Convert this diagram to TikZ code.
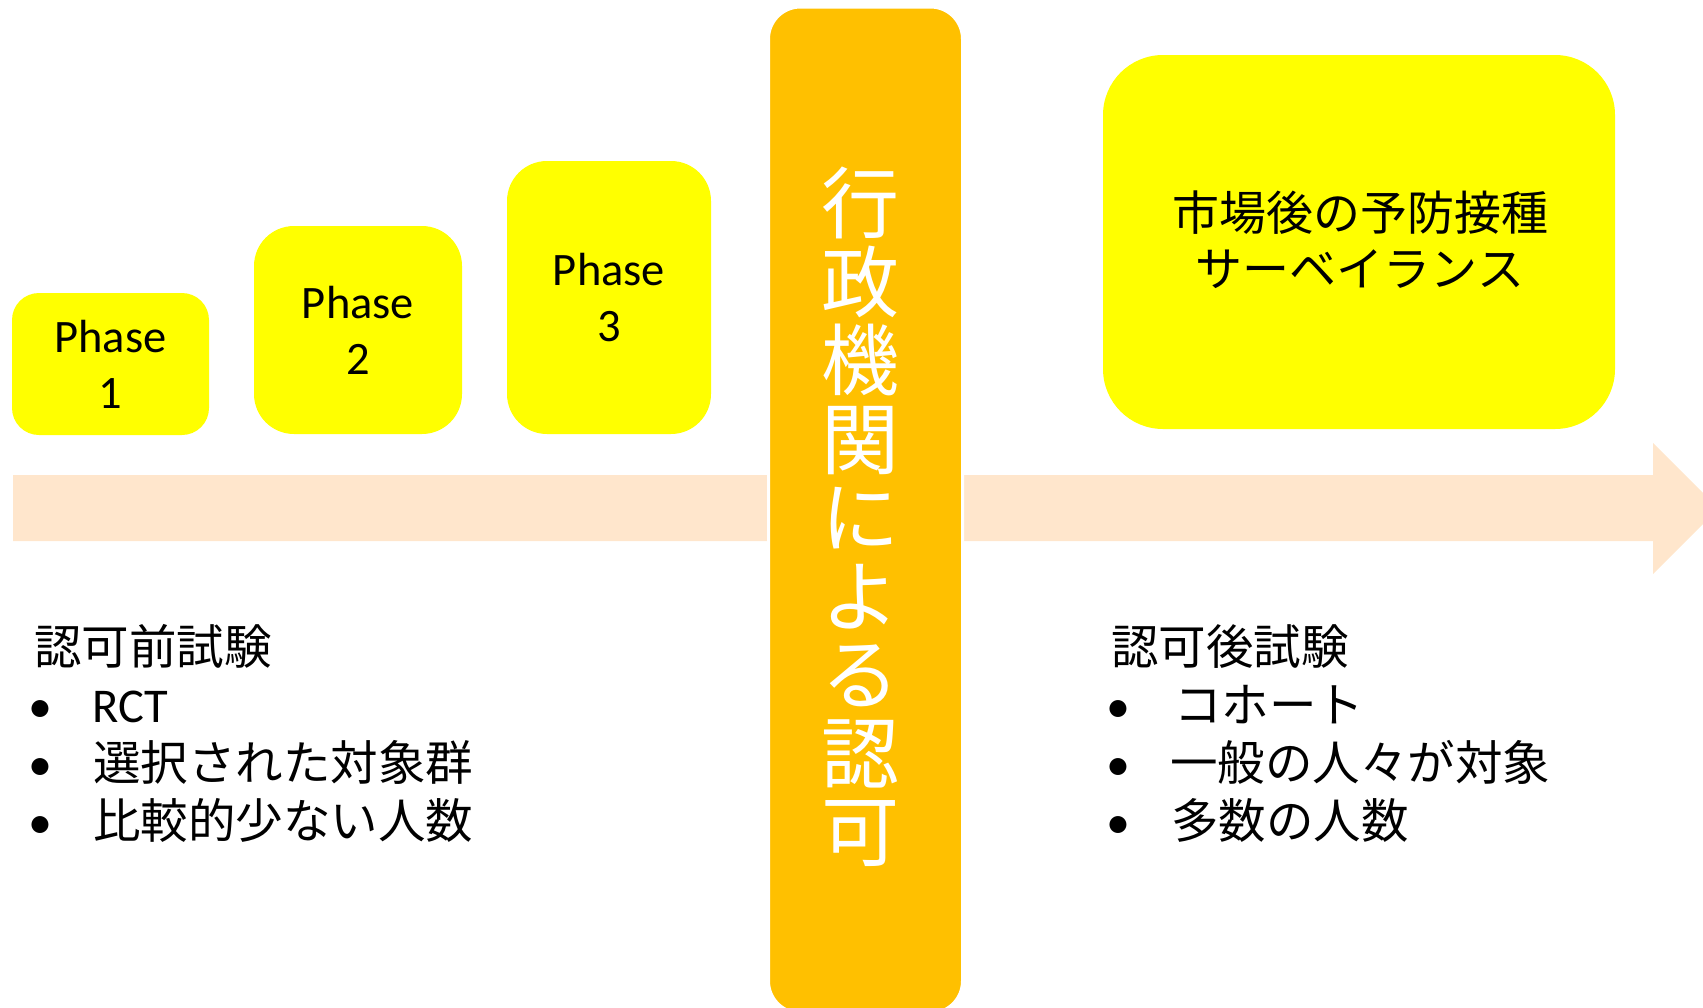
\documentclass[tikz,border=0pt]{standalone}
\usepackage{fontspec}
\setmainfont{Carlito}
\newfontfamily\jp{Noto Sans CJK JP}
\definecolor{boxyellow}{HTML}{FFFF00}
\definecolor{govorange}{HTML}{FFC000}
\definecolor{arrowpeach}{HTML}{FFE6CC}
\tikzset{
  phasebox/.style={fill=boxyellow, draw=none, align=center, inner sep=0pt,
    font=\fontsize{46.5}{56}\selectfont},
  jptext/.style={font=\jp\fontsize{47.5}{58}\selectfont, inner sep=0pt, anchor=base west},
  bulletmark/.style={font=\fontsize{48}{58}\selectfont, inner sep=0pt, anchor=base},
}
\begin{document}
\begin{tikzpicture}[x=1pt,y=-1pt]
\useasboundingbox (0,0) rectangle (1703,1007);
\clip (0,0) rectangle (1703,1007);
% timeline arrow
\fill[arrowpeach] (13,475) -- (1653,475) -- (1653,443) -- (1718.5,508.5)
  -- (1653,574) -- (1653,541) -- (13,541) -- cycle;
% phase boxes
\node[phasebox, minimum width=197pt, minimum height=142pt, rounded corners=27pt]
  (p1) at (110.5,364) {Phase\\1};
\node[phasebox, minimum width=208pt, minimum height=208pt, rounded corners=40pt]
  (p2) at (358,330) {Phase\\2};
\node[phasebox, minimum width=204pt, minimum height=273pt, rounded corners=40pt]
  (p3) at (609,297.5) {Phase\\3};
% authority bar
\node[fill=govorange, draw=white, line width=3pt, rounded corners=32pt,
  minimum width=194pt, minimum height=1006pt, inner sep=0pt] (gov) at (865.5,510) {};
\node[font=\jp\fontsize{78}{78.5}\selectfont, text=white, align=center, inner sep=0pt]
  (govtext) at (860,517) {行\\政\\機\\関\\に\\よ\\る\\認\\可};
% post-market box
\node[fill=boxyellow, draw=none, rounded corners=60pt, minimum width=512pt,
  minimum height=374pt, inner sep=0pt] (post) at (1359,242) {};
\node[align=center, inner sep=0pt, font=\jp\fontsize{47}{56}\selectfont]
  (posttext) at (1360,240) {市場後の予防接種\\サーベイランス};
% left list
\node[jptext] (lh) at (34,664) {認可前試験};
\node[bulletmark] (lb1) at (40,722) {•};
\node[jptext, font=\fontsize{48.5}{58}\selectfont] (li1) at (92,722) {RCT};
\node[bulletmark] (lb2) at (40,780) {•};
\node[jptext] (li2) at (93,780) {選択された対象群};
\node[bulletmark] (lb3) at (40,838) {•};
\node[jptext] (li3) at (93,838) {比較的少ない人数};
% right list
\node[jptext] (rh) at (1111,664) {認可後試験};
\node[bulletmark] (rb1) at (1118,722) {•};
\node[jptext] (ri1) at (1174,722) {コホート};
\node[bulletmark] (rb2) at (1118,780) {•};
\node[jptext] (ri2) at (1170,780) {一般の人々が対象};
\node[bulletmark] (rb3) at (1118,838) {•};
\node[jptext] (ri3) at (1171,838) {多数の人数};
\end{tikzpicture}
\end{document}
